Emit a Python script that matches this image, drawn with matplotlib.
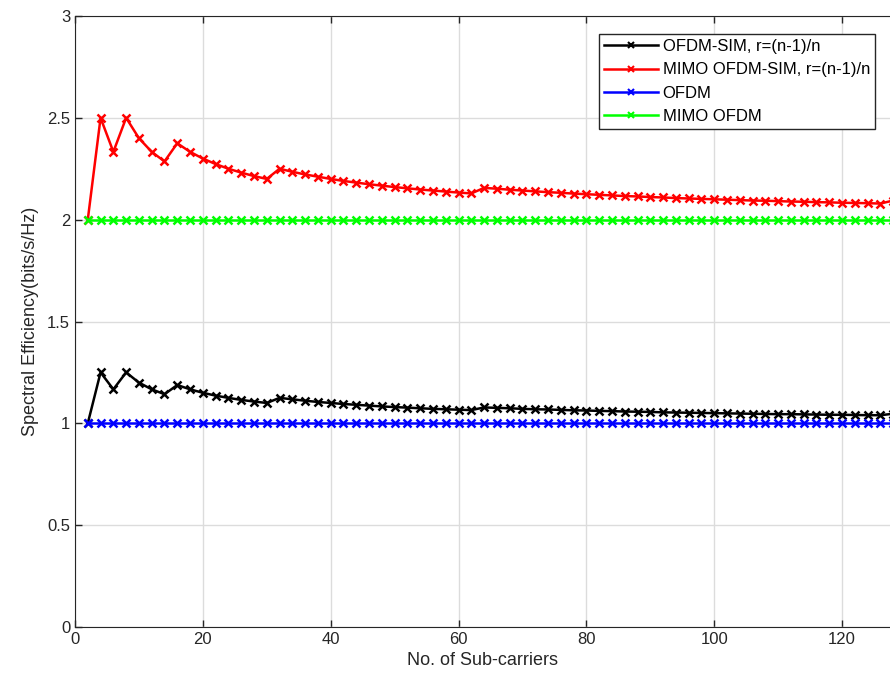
import numpy as np
import matplotlib
matplotlib.use("Agg")
import matplotlib.pyplot as plt

# number of sub-carriers (markers every 2)
n = list(range(2, 130, 2))

# OFDM-SIM, r=(n-1)/n
se_sim = [1.000, 1.250, 1.167, 1.250, 1.200, 1.167, 1.143, 1.188, 1.167, 1.150,
          1.136, 1.125, 1.115, 1.107, 1.100, 1.125, 1.118, 1.111, 1.105, 1.100,
          1.095, 1.091, 1.087, 1.083, 1.080, 1.077, 1.074, 1.071, 1.069, 1.067,
          1.065, 1.078, 1.076, 1.074, 1.071, 1.069, 1.068, 1.066, 1.064, 1.063,
          1.061, 1.060, 1.058, 1.057, 1.056, 1.054, 1.053, 1.052, 1.051, 1.050,
          1.049, 1.048, 1.047, 1.046, 1.045, 1.045, 1.044, 1.043, 1.042, 1.042,
          1.041, 1.040, 1.040, 1.047]
# MIMO OFDM-SIM, r=(n-1)/n
se_mimo_sim = [2.000, 2.500, 2.333, 2.500, 2.400, 2.333, 2.286, 2.375, 2.333, 2.300,
               2.273, 2.250, 2.231, 2.214, 2.200, 2.250, 2.235, 2.222, 2.211, 2.200,
               2.190, 2.182, 2.174, 2.167, 2.160, 2.154, 2.148, 2.143, 2.138, 2.133,
               2.129, 2.156, 2.152, 2.147, 2.143, 2.139, 2.135, 2.132, 2.128, 2.125,
               2.122, 2.119, 2.116, 2.114, 2.111, 2.109, 2.106, 2.104, 2.102, 2.100,
               2.098, 2.096, 2.094, 2.093, 2.091, 2.089, 2.088, 2.086, 2.085, 2.083,
               2.082, 2.081, 2.079, 2.094]
se_ofdm = [1.0] * len(n)
se_mimo_ofdm = [2.0] * len(n)

labels = ['OFDM-SIM, r=(n-1)/n', 'MIMO OFDM-SIM, r=(n-1)/n', 'OFDM', 'MIMO OFDM']

plt.rcParams['font.family'] = ['Liberation Sans', 'DejaVu Sans']
txt = '#262626'

fig = plt.figure(figsize=(8.9, 6.94), dpi=100)
ax = fig.add_axes([75/890, 67/694, 1 - 75/890, 611/694])

kw = dict(marker='x', lw=1.8, ms=6, mew=1.8)
ax.plot(n, se_sim, color='k', label=labels[0], **kw)
ax.plot(n, se_mimo_sim, color='r', label=labels[1], **kw)
ax.plot(n, se_ofdm, color='b', label=labels[2], **kw)
ax.plot(n, se_mimo_ofdm, color=(0, 1, 0), label=labels[3], **kw)

ax.set_xlim(0, 127.5)
ax.set_ylim(0, 3)
ax.set_xticks(range(0, 121, 20))
ax.set_yticks([0, 0.5, 1, 1.5, 2, 2.5, 3])
ax.set_yticklabels(['0', '0.5', '1', '1.5', '2', '2.5', '3'])
ax.grid(True, color='#dcdcdc', lw=1)
ax.set_axisbelow(True)
ax.tick_params(direction='in', top=True, right=False, colors=txt,
               labelsize=12, length=5, width=1)
for s in ['left', 'bottom', 'top']:
    ax.spines[s].set_color(txt)
ax.spines['right'].set_visible(False)

ax.set_xlabel('No. of Sub-carriers', fontsize=13, color=txt, labelpad=4)
ax.set_ylabel('Spectral Efficiency(bits/s/Hz)', fontsize=13, color=txt, labelpad=6)

leg = ax.legend(loc='upper right', bbox_to_anchor=((875 - 75)/815, 1 - 18/611),
                fontsize=12, fancybox=False, framealpha=1,
                edgecolor=txt, handlelength=3.2, borderpad=0.3,
                labelspacing=0.5, handletextpad=0.3, borderaxespad=0)
for h in leg.legend_handles:
    h.set_markersize(5)
    h.set_markeredgewidth(1.5)
leg.get_frame().set_linewidth(1)

fig.savefig('out.png', dpi=100)
